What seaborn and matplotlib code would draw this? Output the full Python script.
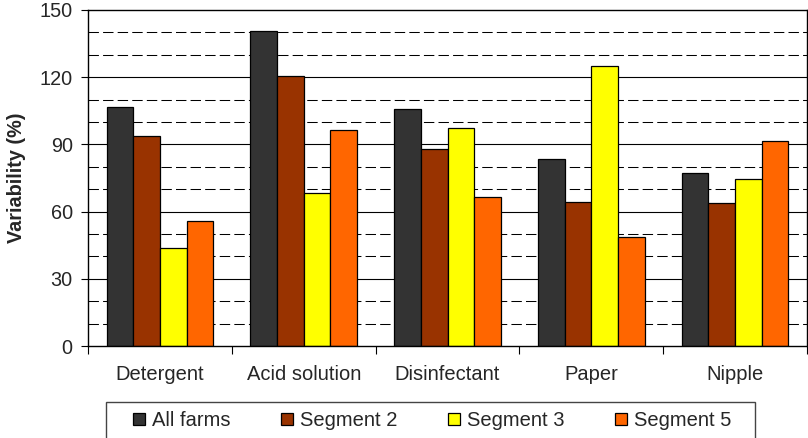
import matplotlib
matplotlib.use("Agg")
import matplotlib.pyplot as plt
import seaborn as sns
import pandas as pd
from matplotlib.ticker import MultipleLocator, FixedLocator
from matplotlib.patches import Rectangle

categories = ["Detergent", "Acid solution", "Disinfectant", "Paper", "Nipple"]
series = ["All farms", "Segment 2", "Segment 3", "Segment 5"]
all_farms = [106.6, 140.8, 105.9, 83.6, 77.2]
segment_2 = [93.6, 120.7, 87.9, 64.4, 63.7]
segment_3 = [43.6, 68.2, 97.2, 125.1, 74.4]
segment_5 = [55.9, 96.4, 66.4, 48.5, 91.5]
colors = ["#333333", "#993300", "#FFFF00", "#FF6600"]

rows = []
for name, vals in zip(series, [all_farms, segment_2, segment_3, segment_5]):
    for cat, v in zip(categories, vals):
        rows.append({"Product": cat, "Series": name, "Variability": v})
df = pd.DataFrame(rows)

sns.set_theme(style="white")
plt.rcParams["font.family"] = ["Liberation Sans", "DejaVu Sans"]

W, H = 808, 438
fig = plt.figure(figsize=(W / 100, H / 100), dpi=100)
ax = fig.add_axes([88 / W, 92 / H, 719 / W, 336 / H])

sns.barplot(data=df, x="Product", y="Variability", hue="Series",
            order=categories, hue_order=series, palette=colors,
            width=0.74, edgecolor="black", linewidth=0.9,
            saturation=1, ax=ax, legend=True)

ax.set_ylim(0, 150)
ax.set_xlim(-0.5, len(categories) - 0.5)

# gridlines: solid at major steps, dashed at the intermediate tens
for v in range(10, 150, 10):
    if v % 30 == 0:
        ax.axhline(v, color="black", lw=0.8, zorder=0)
    else:
        ax.axhline(v, color="black", lw=0.75, ls=(0, (10, 4)), zorder=0)
ax.set_axisbelow(True)

ax.yaxis.set_major_locator(MultipleLocator(30))
ax.tick_params(axis="y", which="major", direction="out", length=5,
               width=0.8, color="black", labelsize=14.3, pad=6, left=True)
ax.tick_params(axis="x", which="major", length=0, labelsize=14.5, pad=14)
ax.xaxis.set_minor_locator(FixedLocator([i - 0.5 for i in range(len(categories) + 1)]))
ax.tick_params(axis="x", which="minor", direction="out", length=6,
               width=0.8, color="black", bottom=True)

for s in ax.spines.values():
    s.set_visible(True)
    s.set_color("black")
    s.set_linewidth(1.0)

ax.set_xlabel("")
ax.set_ylabel("Variability (%)", fontsize=14.3, fontweight="bold", labelpad=10)

ax.get_legend().remove()
handles = [Rectangle((0, 0), 1, 1, facecolor=c, edgecolor="black", linewidth=0.9)
           for c in colors]
leg = fig.legend(handles, series, ncol=4, loc="upper left",
                 bbox_to_anchor=(124 / W, 1 - 402 / H),
                 frameon=False, fontsize=14.5,
                 handlelength=0.6, handleheight=0.6, handletextpad=0.35,
                 columnspacing=2.5, borderpad=0.45, borderaxespad=0)

# legend box, open at the bottom edge of the figure
fig.add_artist(Rectangle((106 / W, -0.05), (755 - 106) / W, 0.05 + (H - 402) / H,
                         transform=fig.transFigure, fill=False,
                         edgecolor="#444444", linewidth=1.0))

fig.savefig("out.png", dpi=100)
